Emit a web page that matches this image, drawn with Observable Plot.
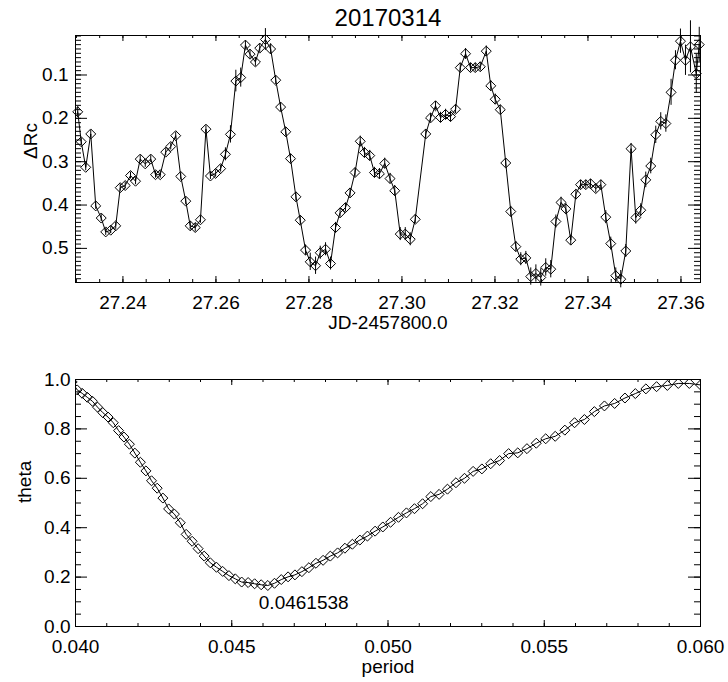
<!DOCTYPE html>
<html><head><meta charset="utf-8">
<script src="https://cdn.jsdelivr.net/npm/d3@7"></script>
<script src="https://cdn.jsdelivr.net/npm/@observablehq/plot@0.6"></script>
<style>
body{margin:0;background:#fff;}
#wrap{position:relative;width:728px;height:682px;}
#top,#bottom{position:absolute;left:0;}
#top{top:0}
#bottom{top:340px}
</style></head><body><div id="wrap"><div id="top"></div><div id="bottom"></div></div>
<script>
const title = "20170314";
const topXLabel = "JD-2457800.0";
const topYLabel = "ΔRc";
const botXLabel = "period";
const botYLabel = "theta";

const jd = [27.23028, 27.23103, 27.23200, 27.23308, 27.23415, 27.23533, 27.23630, 27.23738, 27.23845, 27.23942,
27.24049, 27.24163, 27.24271, 27.24372, 27.24480, 27.24598, 27.24701, 27.24802, 27.24920, 27.25028,
27.25135, 27.25243, 27.25351, 27.25447, 27.25555, 27.25667, 27.25785, 27.25882, 27.25994, 27.26101,
27.26204, 27.26312, 27.26428, 27.26533, 27.26634, 27.26733, 27.26849, 27.26942, 27.27064, 27.27176,
27.27286, 27.27391, 27.27501, 27.27604, 27.27720, 27.27813, 27.27927, 27.28028, 27.28142, 27.28243,
27.28357, 27.28464, 27.28572, 27.28669, 27.28785, 27.28884, 27.28991, 27.29103, 27.29194, 27.29307,
27.29409, 27.29516, 27.29630, 27.29744, 27.29845, 27.29963, 27.30071, 27.30178, 27.30286, 27.30512,
27.30615, 27.30722, 27.30830, 27.30938, 27.31045, 27.31153, 27.31254, 27.31368, 27.31475, 27.31576,
27.31684, 27.31813, 27.31910, 27.32006, 27.32114, 27.32232, 27.32340, 27.32449, 27.32555, 27.32664,
27.32770, 27.32880, 27.32985, 27.33092, 27.33200, 27.33310, 27.33421, 27.33525, 27.33630, 27.33740,
27.33841, 27.33953, 27.34056, 27.34168, 27.34277, 27.34383, 27.34490, 27.34598, 27.34705, 27.34813,
27.34927, 27.35028, 27.35135, 27.35243, 27.35350, 27.35458, 27.35565, 27.35675, 27.35787, 27.35882,
27.35989, 27.36097, 27.36204, 27.36329, 27.36393];

const dRc = [0.185,0.254,0.313,0.236,0.402,0.430,0.462,0.458,0.448,0.360,
0.355,0.332,0.345,0.294,0.305,0.294,0.330,0.330,0.278,0.265,
0.240,0.334,0.391,0.448,0.452,0.434,0.225,0.333,0.327,0.316,
0.283,0.237,0.114,0.106,0.031,0.052,0.070,0.038,0.018,0.040,
0.112,0.174,0.231,0.293,0.381,0.435,0.504,0.531,0.540,0.510,
0.502,0.535,0.452,0.418,0.406,0.372,0.325,0.253,0.279,0.286,
0.325,0.328,0.304,0.339,0.367,0.467,0.467,0.479,0.433,0.236,
0.199,0.171,0.198,0.191,0.196,0.179,0.083,0.051,0.083,0.083,
0.081,0.045,0.125,0.156,0.180,0.303,0.415,0.496,0.525,0.522,
0.565,0.558,0.567,0.544,0.548,0.438,0.394,0.409,0.481,0.375,
0.353,0.353,0.351,0.362,0.353,0.428,0.489,0.563,0.571,0.506,
0.270,0.429,0.412,0.342,0.310,0.238,0.207,0.212,0.140,0.066,
0.022,0.066,0.035,0.097,0.030];

const dRcErr = [0.012,0.008,0.008,0.008,0.008,0.008,0.008,0.008,0.008,0.008,
0.008,0.008,0.008,0.008,0.008,0.008,0.008,0.008,0.008,0.008,
0.008,0.008,0.008,0.010,0.010,0.008,0.008,0.008,0.008,0.008,
0.015,0.020,0.025,0.022,0.010,0.010,0.010,0.010,0.025,0.012,
0.010,0.010,0.010,0.010,0.010,0.010,0.012,0.020,0.020,0.015,
0.015,0.015,0.012,0.010,0.010,0.010,0.010,0.012,0.012,0.012,
0.012,0.012,0.012,0.012,0.012,0.015,0.015,0.015,0.010,0.010,
0.010,0.010,0.012,0.012,0.012,0.010,0.010,0.012,0.010,0.010,
0.010,0.012,0.012,0.012,0.010,0.010,0.012,0.012,0.015,0.015,
0.020,0.020,0.020,0.020,0.020,0.015,0.012,0.012,0.012,0.010,
0.010,0.010,0.010,0.010,0.010,0.015,0.015,0.018,0.020,0.015,
0.012,0.015,0.015,0.018,0.018,0.020,0.020,0.020,0.030,0.022,
0.028,0.035,0.060,0.045,0.040];

const period = [0.060000,0.059642,0.059289,0.058939,0.058594,0.058252,0.057915,0.057582,0.057252,0.056926,
0.056604,0.056285,0.055970,0.055659,0.055351,0.055046,0.054745,0.054446,0.054152,0.053860,
0.053571,0.053286,0.053004,0.052724,0.052448,0.052174,0.051903,0.051635,0.051370,0.051107,
0.050847,0.050590,0.050336,0.050083,0.049834,0.049587,0.049342,0.049100,0.048860,0.048622,
0.048387,0.048154,0.047923,0.047695,0.047468,0.047244,0.047022,0.046802,0.046584,0.046368,
0.046154,0.045942,0.045732,0.045524,0.045317,0.045113,0.044910,0.044710,0.044510,0.044313,
0.044118,0.043924,0.043732,0.043541,0.043353,0.043165,0.042980,0.042796,0.042614,0.042433,
0.042254,0.042076,0.041899,0.041725,0.041551,0.041379,0.041209,0.041040,0.040872,0.040706,
0.040541,0.040377,0.040214,0.040053,0.039894];

const theta = [0.978,0.984,0.984,0.976,0.971,0.962,0.943,0.925,0.903,0.893,
0.870,0.838,0.825,0.795,0.770,0.760,0.742,0.720,0.703,0.700,
0.672,0.659,0.638,0.628,0.600,0.582,0.556,0.535,0.526,0.497,
0.477,0.460,0.442,0.422,0.403,0.386,0.366,0.350,0.333,0.317,
0.298,0.285,0.268,0.256,0.238,0.222,0.209,0.201,0.190,0.175,
0.166,0.169,0.173,0.178,0.180,0.193,0.206,0.223,0.240,0.258,
0.285,0.315,0.345,0.373,0.420,0.455,0.476,0.520,0.560,0.590,
0.630,0.665,0.702,0.738,0.767,0.793,0.825,0.848,0.866,0.888,
0.912,0.928,0.944,0.958,0.990];

const bestPeriod = 0.0461538;
const bestTheta = 0.166;
const bestLabel = "0.0461538";

const topXTicks = [27.24, 27.26, 27.28, 27.30, 27.32, 27.34, 27.36];
const topYTicks = [0.1, 0.2, 0.3, 0.4, 0.5];
const botXTicks = [0.040, 0.045, 0.050, 0.055, 0.060];
const botYTicks = [0.0, 0.2, 0.4, 0.6, 0.8, 1.0];

const topXDomain = [27.2298, 27.3642];
const topYDomain = [0.0089, 0.5787];

const topXMinor = d3.range(0, 27).map(i => 27.23 + i * 0.005);
const topYMinor = d3.range(1, 58).map(i => i * 0.01);
const botXMinor = d3.range(0, 21).map(i => 0.040 + i * 0.001);
const botYMinor = d3.range(0, 21).map(i => i * 0.05);

const FW = 625, FH = 247;
const FONT = "'Liberation Sans', Arial, Helvetica, sans-serif";

function boxTicks(xMajor, xMinor, yMajor, yMinor) {
  const s = {stroke: "black", strokeWidth: 1};
  return [
    Plot.tickX(xMajor, {x: d => d, insetTop: FH - 6, ...s}),
    Plot.tickX(xMajor, {x: d => d, insetBottom: FH - 6, ...s}),
    Plot.tickX(xMinor, {x: d => d, insetTop: FH - 3, ...s}),
    Plot.tickX(xMinor, {x: d => d, insetBottom: FH - 3, ...s}),
    Plot.tickY(yMajor, {y: d => d, insetRight: FW - 12, ...s}),
    Plot.tickY(yMajor, {y: d => d, insetLeft: FW - 12, ...s}),
    Plot.tickY(yMinor, {y: d => d, insetRight: FW - 6, ...s}),
    Plot.tickY(yMinor, {y: d => d, insetLeft: FW - 6, ...s})
  ];
}

const lc = jd.map((t, i) => ({t, v: dRc[i], e: dRcErr[i]}));
const pdm = period.map((p, i) => ({p, th: theta[i]}));

const topPlot = Plot.plot({
  width: 728, height: 340,
  marginLeft: 75, marginRight: 28, marginTop: 35, marginBottom: 58,
  style: {fontFamily: FONT, fontSize: "19px", color: "black", background: "white"},
  x: {domain: topXDomain, label: null},
  y: {domain: topYDomain, reverse: true, label: null},
  marks: [
    Plot.frame({stroke: "black"}),
    ...boxTicks(topXTicks, topXMinor, topYTicks, topYMinor),
    Plot.axisX({ticks: topXTicks, tickSize: 0, tickPadding: 13, tickFormat: d3.format(".2f"), label: null}),
    Plot.axisY({ticks: topYTicks, tickSize: 0, tickPadding: 7, tickFormat: d3.format(".1f"), label: null}),
    Plot.ruleX(lc, {x: "t", y1: d => d.v - d.e, y2: d => d.v + d.e, stroke: "black", strokeWidth: 1}),
    Plot.line(lc, {x: "t", y: "v", stroke: "black", strokeWidth: 1}),
    Plot.dot(lc, {x: "t", y: "v", symbol: "diamond2", r: 4.5, stroke: "black", strokeWidth: 1, fill: "none"}),
    Plot.text([title], {text: d => d, frameAnchor: "top", lineAnchor: "bottom", dy: -9.3, fontSize: 24}),
    Plot.text([topXLabel], {text: d => d, frameAnchor: "bottom", lineAnchor: "bottom", dy: 46.5}),
    Plot.text([topYLabel], {text: d => d, frameAnchor: "left", rotate: -90, lineAnchor: "bottom", dx: -39})
  ]
});
document.getElementById("top").appendChild(topPlot);

const botPlot = Plot.plot({
  width: 728, height: 342,
  marginLeft: 75, marginRight: 28, marginTop: 39, marginBottom: 56,
  style: {fontFamily: FONT, fontSize: "19px", color: "black", background: "white"},
  x: {domain: [0.040, 0.060], label: null},
  y: {domain: [0, 1], label: null},
  marks: [
    Plot.frame({stroke: "black"}),
    ...boxTicks(botXTicks, botXMinor, botYTicks, botYMinor),
    Plot.axisX({ticks: botXTicks, tickSize: 0, tickPadding: 13, tickFormat: d3.format(".3f"), label: null}),
    Plot.axisY({ticks: botYTicks, tickSize: 0, tickPadding: 5, tickFormat: d3.format(".1f"), label: null}),
    Plot.line(pdm, {x: "p", y: "th", stroke: "black", strokeWidth: 1, clip: true}),
    Plot.dot(pdm, {x: "p", y: "th", symbol: "diamond2", r: 4.5, stroke: "black", strokeWidth: 1, fill: "none", clip: true}),
    Plot.text([{p: bestPeriod, th: bestTheta, label: bestLabel}], {x: "p", y: "th", text: "label", textAnchor: "start", lineAnchor: "bottom", dx: -9, dy: 24}),
    Plot.text([botXLabel], {text: d => d, frameAnchor: "bottom", lineAnchor: "bottom", dy: 46.5}),
    Plot.text([botYLabel], {text: d => d, frameAnchor: "left", rotate: -90, lineAnchor: "bottom", dx: -45})
  ]
});
document.getElementById("bottom").appendChild(botPlot);
</script>
</body></html>
